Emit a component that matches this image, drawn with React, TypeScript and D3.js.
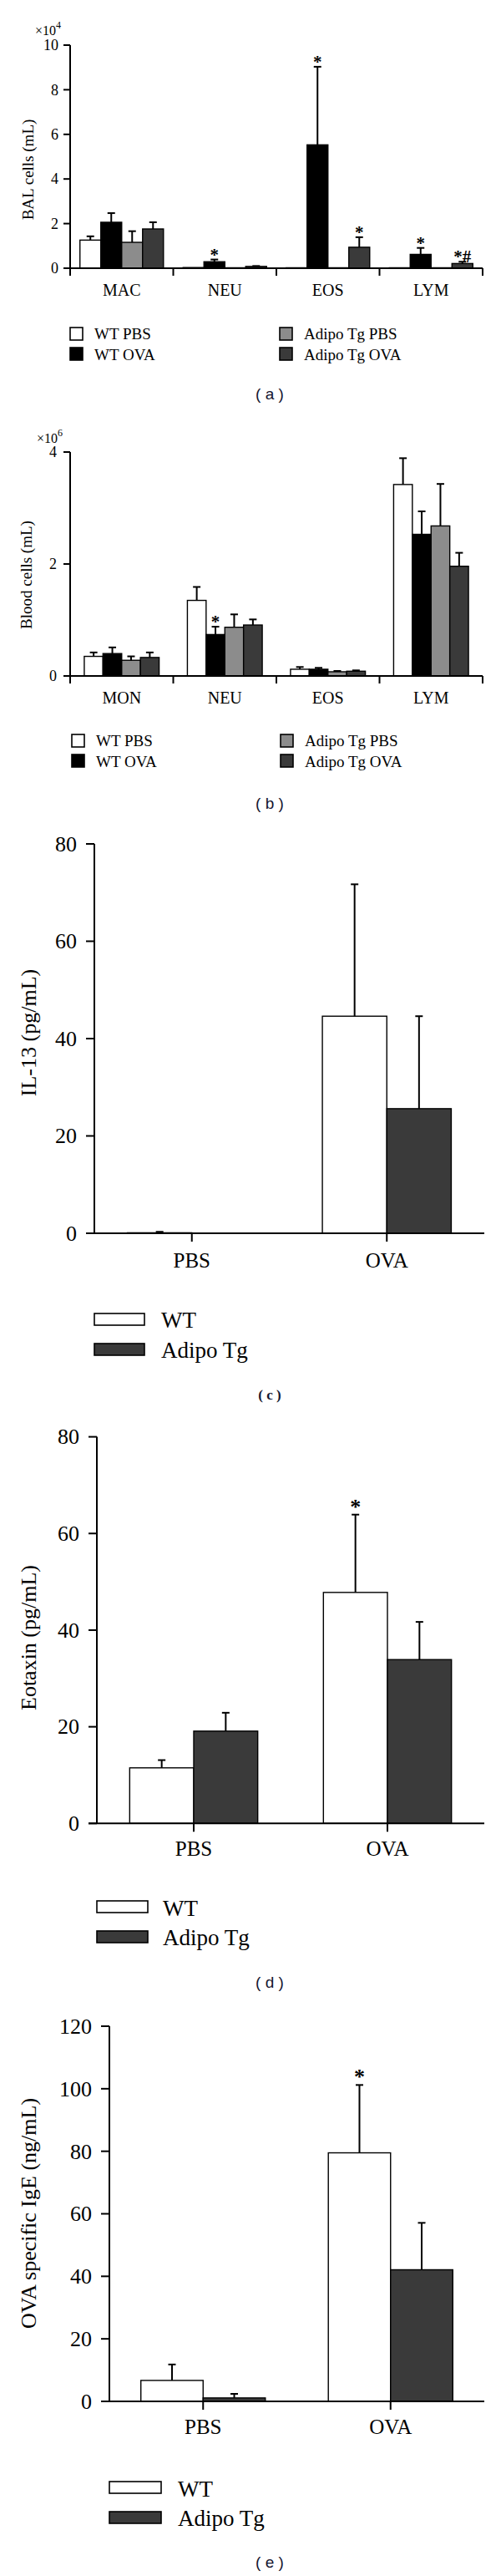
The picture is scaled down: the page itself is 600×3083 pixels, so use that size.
import React from "react";
import * as d3 from "d3";

// ---------------- data ----------------
const fourGroups = ["WT PBS", "WT OVA", "Adipo Tg PBS", "Adipo Tg OVA"];
const fourColors = ["#ffffff", "#000000", "#8c8c8c", "#3a3a3a"];
const twoGroups = ["WT", "Adipo Tg"];
const twoColors = ["#ffffff", "#3a3a3a"];

// (a) BAL cells (x10^4 /mL)
const balCategories = ["MAC", "NEU", "EOS", "LYM"];
const balMean = [
  [1.26, 2.06, 1.16, 1.76],
  [0.03, 0.29, 0.02, 0.08],
  [0.02, 5.53, 0.02, 0.94],
  [0.02, 0.62, 0.02, 0.21],
];
const balSem = [
  [0.17, 0.41, 0.5, 0.3],
  [0, 0.1, 0, 0.02],
  [0, 3.5, 0, 0.45],
  [0, 0.29, 0, 0.08],
];
const balTicks = [0, 2, 4, 6, 8, 10];
const balMarks = [
  { cat: 1, grp: 1, text: "*" },
  { cat: 2, grp: 1, text: "*" },
  { cat: 2, grp: 3, text: "*" },
  { cat: 3, grp: 1, text: "*" },
  { cat: 3, grp: 3, text: "*#" },
];

// (b) Blood cells (x10^6 /mL)
const bloodCategories = ["MON", "NEU", "EOS", "LYM"];
const bloodMean = [
  [0.35, 0.4, 0.28, 0.33],
  [1.35, 0.74, 0.87, 0.91],
  [0.12, 0.12, 0.075, 0.085],
  [3.42, 2.53, 2.68, 1.96],
];
const bloodSem = [
  [0.07, 0.11, 0.07, 0.09],
  [0.24, 0.14, 0.23, 0.1],
  [0.04, 0.025, 0.015, 0.015],
  [0.47, 0.41, 0.75, 0.24],
];
const bloodTicks = [0, 2, 4];
const bloodMarks = [{ cat: 1, grp: 1, text: "*" }];

// (c) IL-13, (d) Eotaxin, (e) OVA specific IgE
const treatCategories = ["PBS", "OVA"];
const il13Mean = [[0.1, 0], [44.6, 25.6]];
const il13Sem = [[0.2, 0], [27.1, 19.0]];
const il13Ticks = [0, 20, 40, 60, 80];
const il13Marks: { cat: number; grp: number; text: string }[] = [];

const eotaxinMean = [[11.5, 19.1], [47.8, 33.9]];
const eotaxinSem = [[1.6, 3.8], [16.1, 7.8]];
const eotaxinTicks = [0, 20, 40, 60, 80];
const eotaxinMarks = [{ cat: 1, grp: 0, text: "*" }];

const igeMean = [[6.7, 1.1], [79.5, 42.1]];
const igeSem = [[5.1, 1.3], [21.7, 15.0]];
const igeTicks = [0, 20, 40, 60, 80, 100, 120];
const igeMarks = [{ cat: 1, grp: 0, text: "*" }];

// ---------------- layout ----------------
const SERIF = "'Liberation Serif', 'DejaVu Serif', serif";
const SANS = "'Liberation Sans', Arial, sans-serif";

type Cfg = any;

const panels: Cfg[] = [
  {
    id: "a", categories: balCategories, groups: fourGroups, colors: fourColors,
    mean: balMean, sem: balSem, ticks: balTicks, marks: balMarks,
    left: 84, right: 578, top: 54, bottom: 321, groupFrac: 0.81,
    tickFont: 18, tickRight: 70, tickLen: 8, catFont: 20, catBaseline: 354,
    ylabel: "BAL cells (mL)", ylabelFont: 19, ylabelX: 40, ylabelY: 203,
    exp: { x: 42, y: 42, base: "×10", sup: "4" },
    boundaryTicks: true, markFont: 21, markGap: -1,
    legend: {
      kind: "square", size: 15, font: 19,
      items: [
        { x: 84, y: 392, tx: 113, ty: 406 },
        { x: 84, y: 416, tx: 113, ty: 431 },
        { x: 335, y: 392, tx: 364, ty: 406 },
        { x: 335, y: 416, tx: 364, ty: 431 },
      ],
    },
    label: { text: "( a )", y: 478, font: 19, bold: false, serif: false },
  },
  {
    id: "b", categories: bloodCategories, groups: fourGroups, colors: fourColors,
    mean: bloodMean, sem: bloodSem, ticks: bloodTicks, marks: bloodMarks,
    left: 84, right: 578, top: 541, bottom: 809, groupFrac: 0.726,
    tickFont: 18, tickRight: 68, tickLen: 8, catFont: 20, catBaseline: 842,
    ylabel: "Blood cells (mL)", ylabelFont: 19, ylabelX: 38, ylabelY: 688,
    exp: { x: 44, y: 530, base: "×10", sup: "6" },
    boundaryTicks: true, markFont: 21, markGap: -1,
    legend: {
      kind: "square", size: 15, font: 19,
      items: [
        { x: 86, y: 879, tx: 115, ty: 893 },
        { x: 86, y: 903, tx: 115, ty: 918 },
        { x: 336, y: 879, tx: 365, ty: 893 },
        { x: 336, y: 903, tx: 365, ty: 918 },
      ],
    },
    label: { text: "( b )", y: 968, font: 19, bold: false, serif: false },
  },
  {
    id: "c", categories: treatCategories, groups: twoGroups, colors: twoColors,
    mean: il13Mean, sem: il13Sem, ticks: il13Ticks, marks: il13Marks,
    left: 113, right: 580, top: 1010, bottom: 1476, groupFrac: 0.661,
    tickFont: 26, tickRight: 92, tickLen: 10, catFont: 25, catBaseline: 1517,
    ylabel: "IL-13 (pg/mL)", ylabelFont: 26, ylabelX: 43, ylabelY: 1236,
    exp: null, boundaryTicks: false, markFont: 26, markGap: 1,
    legend: {
      kind: "wide", w: 60, h: 14, font: 27,
      items: [
        { x: 113, y: 1572, tx: 193, ty: 1589 },
        { x: 113, y: 1608, tx: 193, ty: 1625 },
      ],
    },
    label: { text: "( c )", y: 1675, font: 17, bold: true, serif: true },
  },
  {
    id: "d", categories: treatCategories, groups: twoGroups, colors: twoColors,
    mean: eotaxinMean, sem: eotaxinSem, ticks: eotaxinTicks, marks: eotaxinMarks,
    left: 116, right: 580, top: 1719.6, bottom: 2182.3, groupFrac: 0.661,
    tickFont: 26, tickRight: 95, tickLen: 10, catFont: 25, catBaseline: 2221,
    ylabel: "Eotaxin (pg/mL)", ylabelFont: 26, ylabelX: 43, ylabelY: 1960,
    exp: null, boundaryTicks: false, markFont: 26, markGap: 1,
    legend: {
      kind: "wide", w: 61, h: 14, font: 27,
      items: [
        { x: 116, y: 2275, tx: 195, ty: 2293 },
        { x: 116, y: 2311, tx: 195, ty: 2328 },
      ],
    },
    label: { text: "( d )", y: 2379, font: 19, bold: false, serif: false },
  },
  {
    id: "e", categories: treatCategories, groups: twoGroups, colors: twoColors,
    mean: igeMean, sem: igeSem, ticks: igeTicks, marks: igeMarks,
    left: 131, right: 580, top: 2425, bottom: 2874, groupFrac: 0.664,
    tickFont: 26, tickRight: 110, tickLen: 10, catFont: 25, catBaseline: 2913,
    ylabel: "OVA specific IgE (ng/mL)", ylabelFont: 26, ylabelX: 43, ylabelY: 2649,
    exp: null, boundaryTicks: false, markFont: 26, markGap: 1,
    legend: {
      kind: "wide", w: 62, h: 14, font: 27,
      items: [
        { x: 131, y: 2970, tx: 213, ty: 2988 },
        { x: 131, y: 3006, tx: 213, ty: 3023 },
      ],
    },
    label: { text: "( e )", y: 3073, font: 19, bold: false, serif: false },
  },
];

function Panel({ cfg }: { cfg: Cfg }) {
  const maxV = cfg.ticks[cfg.ticks.length - 1];
  const y = d3.scaleLinear().domain([0, maxV]).range([cfg.bottom, cfg.top]);
  const x = d3.scaleBand<string>().domain(cfg.categories).range([cfg.left, cfg.right]);
  const bw = x.bandwidth();
  const groupW = bw * cfg.groupFrac;
  const inner = d3
    .scaleBand<number>()
    .domain(d3.range(cfg.groups.length))
    .range([(bw - groupW) / 2, (bw + groupW) / 2]);
  const barW = inner.bandwidth();
  const axisW = 2;

  const bars: any[] = [];
  cfg.categories.forEach((c: string, ci: number) => {
    cfg.groups.forEach((g: string, gi: number) => {
      const m = cfg.mean[ci][gi];
      const s = cfg.sem[ci][gi];
      const x0 = (x(c) as number) + (inner(gi) as number);
      bars.push({ ci, gi, x0, m, s, yTop: y(m), yErr: y(m + s) });
    });
  });

  const boundaries = cfg.boundaryTicks
    ? cfg.categories.map((c: string) => x(c) as number).concat([cfg.right])
    : cfg.categories.map((c: string) => (x(c) as number) + bw / 2);

  return (
    <g>
      {bars.map((b, i) => (
        <rect
          key={"bar" + i}
          x={b.x0}
          y={b.yTop}
          width={barW}
          height={Math.max(0, cfg.bottom - b.yTop)}
          fill={cfg.colors[b.gi]}
          stroke="#000"
          strokeWidth={1.4}
        />
      ))}
      {bars
        .filter((b) => b.s > 0)
        .map((b, i) => (
          <g key={"err" + i} stroke="#000" strokeWidth={2}>
            <line x1={b.x0 + barW / 2} x2={b.x0 + barW / 2} y1={b.yTop} y2={b.yErr} />
            <line x1={b.x0 + barW / 2 - 4.5} x2={b.x0 + barW / 2 + 4.5} y1={b.yErr} y2={b.yErr} />
          </g>
        ))}
      {cfg.marks.map((mk: any, i: number) => {
        const b = bars.find((bb) => bb.ci === mk.cat && bb.gi === mk.grp);
        return (
          <text
            key={"mk" + i}
            x={b.x0 + barW / 2}
            y={b.yErr - cfg.markGap}
            textAnchor="middle"
            fontFamily={SERIF}
            fontWeight="bold"
            fontSize={cfg.markFont}
            fill="#000"
          >
            {mk.text}
          </text>
        );
      })}
      <line x1={cfg.left} x2={cfg.left} y1={cfg.top} y2={cfg.bottom + (cfg.boundaryTicks ? 9 : 0)} stroke="#000" strokeWidth={axisW} />
      {cfg.ticks.map((t: number) => (
        <g key={"yt" + t}>
          <line x1={cfg.left - cfg.tickLen} x2={cfg.left} y1={y(t)} y2={y(t)} stroke="#000" strokeWidth={axisW} />
          <text
            x={cfg.tickRight}
            y={y(t)}
            dy="0.34em"
            textAnchor="end"
            fontFamily={SERIF}
            fontSize={cfg.tickFont}
            fill="#000"
          >
            {t}
          </text>
        </g>
      ))}
      <line x1={cfg.left - cfg.tickLen} x2={cfg.right} y1={cfg.bottom} y2={cfg.bottom} stroke="#000" strokeWidth={axisW} />
      {boundaries.map((bx: number, i: number) => (
        <line key={"xt" + i} x1={bx} x2={bx} y1={cfg.bottom} y2={cfg.bottom + (cfg.boundaryTicks ? 9 : 10)} stroke="#000" strokeWidth={axisW} />
      ))}
      {cfg.categories.map((c: string) => (
        <text
          key={"cat" + c}
          x={(x(c) as number) + bw / 2}
          y={cfg.catBaseline}
          textAnchor="middle"
          fontFamily={SERIF}
          fontSize={cfg.catFont}
          fill="#000"
        >
          {c}
        </text>
      ))}
      <text
        transform={`translate(${cfg.ylabelX},${cfg.ylabelY}) rotate(-90)`}
        textAnchor="middle"
        fontFamily={SERIF}
        fontSize={cfg.ylabelFont}
        fill="#000"
      >
        {cfg.ylabel}
      </text>
      {cfg.exp && (
        <text x={cfg.exp.x} y={cfg.exp.y} fontFamily={SERIF} fontSize={16} fill="#000">
          {cfg.exp.base}
          <tspan fontSize={12} dy={-8}>
            {cfg.exp.sup}
          </tspan>
        </text>
      )}
      {cfg.legend.items.map((it: any, i: number) => (
        <g key={"lg" + i}>
          <rect
            x={it.x}
            y={it.y}
            width={cfg.legend.kind === "square" ? cfg.legend.size : cfg.legend.w}
            height={cfg.legend.kind === "square" ? cfg.legend.size : cfg.legend.h}
            fill={cfg.colors[i]}
            stroke="#000"
            strokeWidth={1.6}
          />
          <text x={it.tx} y={it.ty} fontFamily={SERIF} fontSize={cfg.legend.font} fill="#000">
            {cfg.groups[i]}
          </text>
        </g>
      ))}
      <text
        x={323}
        y={cfg.label.y}
        textAnchor="middle"
        fontFamily={cfg.label.serif ? SERIF : SANS}
        fontWeight={cfg.label.bold ? "bold" : "normal"}
        fontSize={cfg.label.font}
        fill="#151530"
        style={{ whiteSpace: "pre" }}
      >
        {cfg.label.text}
      </text>
    </g>
  );
}

export default function App() {
  return (
    <svg
      width={600}
      height={3083}
      viewBox="0 0 600 3083"
      style={{ position: "absolute", left: 0, top: 0, background: "#fff" }}
    >
      <rect x={0} y={0} width={600} height={3083} fill="#fff" />
      {panels.map((p) => (
        <Panel key={p.id} cfg={p} />
      ))}
    </svg>
  );
}
